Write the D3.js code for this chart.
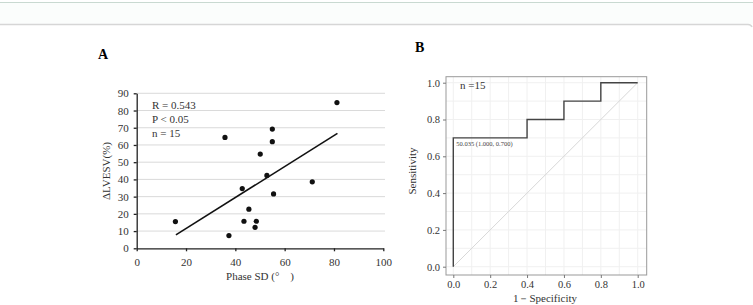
<!DOCTYPE html>
<html>
<head>
<meta charset="utf-8">
<script src="https://cdn.jsdelivr.net/npm/d3@7"></script>
<style>
  body { margin: 0; background: #fff; }
  text { font-family: "Liberation Serif", "DejaVu Serif", serif; }
</style>
</head>
<body>
<script>
// panel A data: phase SD vs delta LVESV
var phaseSD = [15.7, 35.8, 37.4, 42.8, 43.5, 45.5, 48.0, 48.5, 50.1, 52.8, 55.0, 55.0, 55.5, 71.2, 81.2];
var dLVESV  = [15.5, 64.4, 7.4, 34.7, 15.7, 22.7, 12.2, 15.7, 54.7, 42.3, 69.2, 61.9, 31.6, 38.6, 84.6];
var fitLine = [[15.9, 7.8], [81.4, 66.7]];
var statsText = ["R = 0.543", "P < 0.05", "n = 15"];

// panel B data: ROC steps
var rocFpr = [0, 0, 0.4, 0.4, 0.6, 0.6, 0.8, 0.8, 1.0];
var rocTpr = [0, 0.7, 0.7, 0.8, 0.8, 0.9, 0.9, 1.0, 1.0];
var rocTicks = [0, 0.2, 0.4, 0.6, 0.8, 1.0];

var W = 753, H = 305;
var svg = d3.select('body').append('svg')
            .attr('width', W).attr('height', H);

// page frame at top
svg.append('rect').attr('x', 0).attr('y', 2).attr('width', W).attr('height', 22).attr('fill', '#fbfdfc');
svg.append('line').attr('x1', 0).attr('x2', W).attr('y1', 2.5).attr('y2', 2.5)
   .attr('stroke', '#c9d9d1').attr('stroke-width', 1);
svg.append('path').attr('d', 'M0,24.5 H748 Q751,24.5 752,27')
   .attr('fill', 'none').attr('stroke', '#d6d6d6').attr('stroke-width', 1.5);

// ---------- panel A ----------
var xA = d3.scaleLinear().domain([0, 100]).range([136.7, 383.3]);
var yA = d3.scaleLinear().domain([0, 90]).range([248.3, 93.3]);

var gA = svg.append('g');

gA.append('text').attr('x', 98).attr('y', 59).attr('font-size', 14)
  .attr('font-weight', 'bold').text('A');

// gridlines
gA.append('g').selectAll('line')
  .data(d3.range(10, 91, 10))
  .enter().append('line')
  .attr('x1', xA(0)).attr('x2', 385)
  .attr('y1', function (d) { return yA(d); })
  .attr('y2', function (d) { return yA(d); })
  .attr('stroke', '#cfcfcf').attr('stroke-width', 0.8);

var xAxisA = d3.axisBottom(xA).tickValues(d3.range(0, 101, 20)).tickSize(3).tickSizeOuter(0);
var yAxisA = d3.axisLeft(yA).tickValues(d3.range(0, 91, 10)).tickSize(3).tickSizeOuter(0);

var xgA = gA.append('g').attr('transform', 'translate(0,' + yA(0) + ')').call(xAxisA);
var ygA = gA.append('g').attr('transform', 'translate(' + xA(0) + ',0)').call(yAxisA);
[xgA, ygA].forEach(function (g) {
  g.selectAll('path, line').attr('stroke', '#222').attr('stroke-width', 1.3);
  g.selectAll('text').attr('font-family', '"Liberation Serif", serif')
   .attr('font-size', 11).attr('fill', '#333');
});
xgA.selectAll('text').attr('dy', '1.1em');
ygA.selectAll('text').attr('x', -8);

gA.append('text').attr('x', 260).attr('y', 280).attr('text-anchor', 'middle')
  .attr('font-size', 11).attr('fill', '#333').text('Phase SD (\u00b0\u3000)');
gA.append('text').attr('transform', 'translate(110,171) rotate(-90)')
  .attr('text-anchor', 'middle').attr('font-size', 11).attr('fill', '#333')
  .text('\u0394LVESV(%)');

gA.selectAll('.stat').data(statsText).enter().append('text')
  .attr('x', 152).attr('y', function (d, i) { return 109 + i * 14; })
  .attr('font-size', 11).attr('fill', '#333').text(function (d) { return d; });

gA.append('line')
  .attr('x1', xA(fitLine[0][0])).attr('y1', yA(fitLine[0][1]))
  .attr('x2', xA(fitLine[1][0])).attr('y2', yA(fitLine[1][1]))
  .attr('stroke', '#111').attr('stroke-width', 1.6);

gA.selectAll('circle').data(phaseSD).enter().append('circle')
  .attr('cx', function (d) { return xA(d); })
  .attr('cy', function (d, i) { return yA(dLVESV[i]); })
  .attr('r', 2.6).attr('fill', '#111');

// ---------- panel B ----------
var xB = d3.scaleLinear().domain([0, 1]).range([453.3, 637.7]);
var yB = d3.scaleLinear().domain([0, 1]).range([266.7, 82.7]);

var gB = svg.append('g');

gB.append('text').attr('x', 415).attr('y', 52).attr('font-size', 14)
  .attr('font-weight', 'bold').text('B');

// faint grid
var gridB = rocTicks.concat([0.1, 0.3, 0.5, 0.7, 0.9]);
gB.append('g').selectAll('line').data(gridB)
  .enter().append('line')
  .attr('x1', 446).attr('x2', 646.7)
  .attr('y1', function (d) { return yB(d); }).attr('y2', function (d) { return yB(d); })
  .attr('stroke', '#f0f0f0').attr('stroke-width', 1);
gB.append('g').selectAll('line').data(gridB)
  .enter().append('line')
  .attr('y1', 76.7).attr('y2', 275)
  .attr('x1', function (d) { return xB(d); }).attr('x2', function (d) { return xB(d); })
  .attr('stroke', '#f0f0f0').attr('stroke-width', 1);

gB.append('rect').attr('x', 446).attr('y', 76.7).attr('width', 200.7).attr('height', 198.3)
  .attr('fill', 'none').attr('stroke', '#999').attr('stroke-width', 1);

var xAxisB = d3.axisBottom(xB).tickValues(rocTicks).tickFormat(d3.format('.1f')).tickSize(3).tickSizeOuter(0);
var yAxisB = d3.axisLeft(yB).tickValues(rocTicks).tickFormat(d3.format('.1f')).tickSize(3).tickSizeOuter(0);
var xgB = gB.append('g').attr('transform', 'translate(0,275)').call(xAxisB);
var ygB = gB.append('g').attr('transform', 'translate(446,0)').call(yAxisB);
[xgB, ygB].forEach(function (g) {
  g.select('.domain').remove();
  g.selectAll('line').attr('stroke', '#777');
  g.selectAll('text').attr('font-family', '"Liberation Serif", serif')
   .attr('font-size', 10.5).attr('fill', '#333');
});

gB.append('text').attr('x', 545).attr('y', 302).attr('text-anchor', 'middle')
  .attr('font-size', 11).attr('fill', '#333').text('1\uff0dSpecificity');
gB.append('text').attr('transform', 'translate(416,171) rotate(-90)')
  .attr('text-anchor', 'middle').attr('font-size', 11).attr('fill', '#333')
  .text('Sensitivity');

gB.append('line')
  .attr('x1', xB(0)).attr('y1', yB(0)).attr('x2', xB(1)).attr('y2', yB(1))
  .attr('stroke', '#d8d8d8').attr('stroke-width', 1);

var roc = d3.line()
  .x(function (d) { return xB(d); })
  .y(function (d, i) { return yB(rocTpr[i]); });
gB.append('path').attr('d', roc(rocFpr))
  .attr('fill', 'none').attr('stroke', '#444').attr('stroke-width', 1.4);

gB.append('text').attr('x', xB(0) + 3).attr('y', yB(0.7) + 8)
  .attr('font-family', '"Liberation Sans", sans-serif')
  .attr('font-size', 6.5).attr('fill', '#444').text('50.035 (1.000, 0.700)');

gB.append('text').attr('x', 460).attr('y', 89).attr('font-size', 11)
  .attr('fill', '#333').text('n =15');
</script>
</body>
</html>
